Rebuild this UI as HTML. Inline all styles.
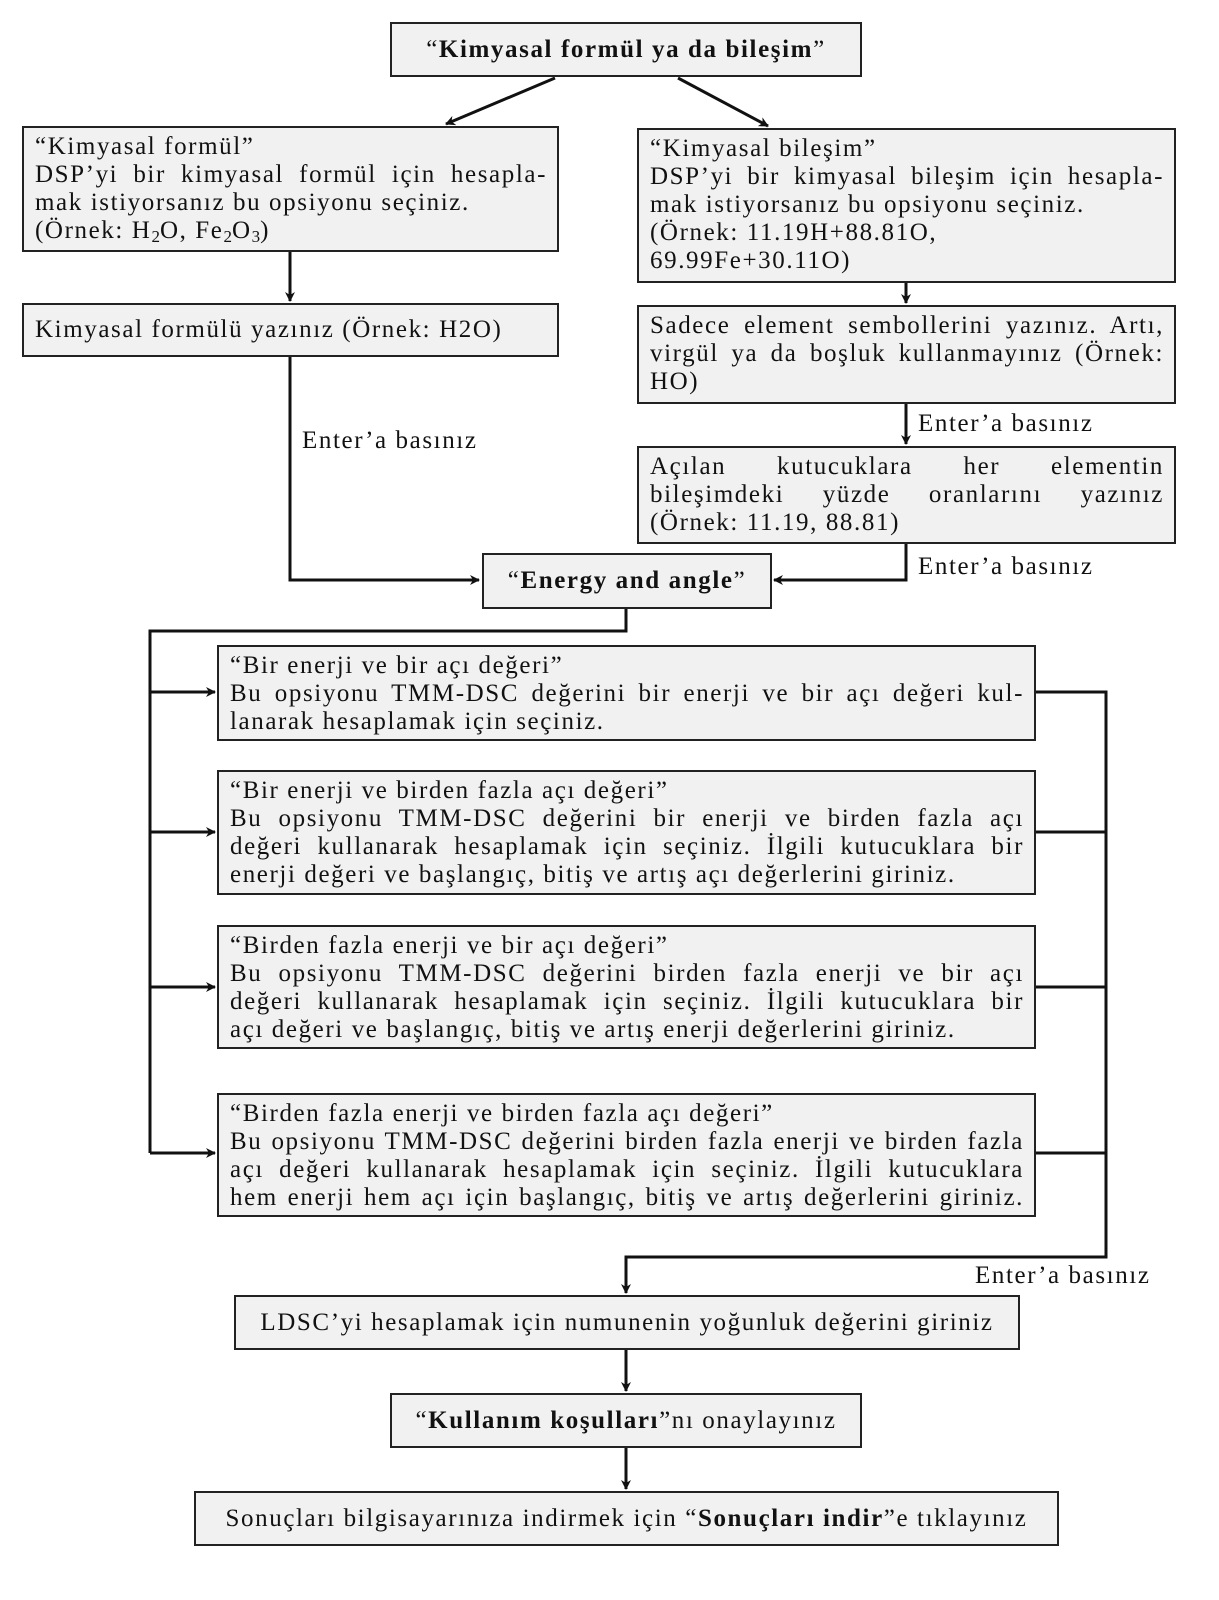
<!DOCTYPE html>
<html><head><meta charset="utf-8"><style>
body{margin:0;width:1219px;height:1600px;background:#fff;position:relative;font-family:"Liberation Serif",serif;color:#111;overflow:hidden}
.b{position:absolute;box-sizing:border-box;background:#f1f1f1;border:2px solid #222;font-size:25px;letter-spacing:1.6px;line-height:28px;padding:5px 10px 0 11px}
.b div{white-space:nowrap}
.j{text-align:justify;text-align-last:justify;white-space:normal!important}
.c{text-align:center;display:flex;align-items:center;justify-content:center;padding:0}
.l{position:absolute;font-size:25px;letter-spacing:1.6px;white-space:nowrap}
sub{font-size:17px;vertical-align:-4px;line-height:0;letter-spacing:0}
</style></head><body>
<svg width="1219" height="1600" style="position:absolute;left:0;top:0">
<defs><marker id="a" markerWidth="10" markerHeight="10" refX="9" refY="5" orient="auto" markerUnits="userSpaceOnUse"><path d="M0,0 L10,5 L0,10 L3,5z" fill="#111"/></marker></defs>
<g stroke="#111" stroke-width="3" fill="none">
<line x1="555" y1="78" x2="446" y2="124" marker-end="url(#a)"/>
<line x1="678" y1="78" x2="768" y2="126" marker-end="url(#a)"/>
<line x1="290" y1="252" x2="290" y2="301" marker-end="url(#a)"/>
<line x1="906" y1="283" x2="906" y2="303" marker-end="url(#a)"/>
<line x1="906" y1="404" x2="906" y2="444" marker-end="url(#a)"/>
<polyline points="290,357 290,580 479,580" marker-end="url(#a)"/>
<polyline points="906,544 906,580 774,580" marker-end="url(#a)"/>
<polyline points="626,609 626,631 150,631 150,1153"/>
<line x1="150" y1="692" x2="215" y2="692" marker-end="url(#a)"/>
<line x1="150" y1="832" x2="215" y2="832" marker-end="url(#a)"/>
<line x1="150" y1="987" x2="215" y2="987" marker-end="url(#a)"/>
<line x1="150" y1="1153" x2="215" y2="1153" marker-end="url(#a)"/>
<polyline points="1036,692 1106,692 1106,1257 626,1257 626,1293" marker-end="url(#a)"/>
<line x1="1036" y1="832" x2="1106" y2="832"/>
<line x1="1036" y1="987" x2="1106" y2="987"/>
<line x1="1036" y1="1153" x2="1106" y2="1153"/>
<line x1="626" y1="1350" x2="626" y2="1391" marker-end="url(#a)"/>
<line x1="626" y1="1448" x2="626" y2="1489" marker-end="url(#a)"/>
</g></svg>

<div class="b c" style="left:390px;top:22px;width:472px;height:55px">“<b>Kimyasal formül ya da bileşim</b>”</div>

<div class="b" style="left:22px;top:126px;width:537px;height:126px">
<div>“Kimyasal formül”</div>
<div class="j">DSP’yi bir kimyasal formül için hesapla-</div>
<div>mak istiyorsanız bu opsiyonu seçiniz.</div>
<div>(Örnek: H<sub>2</sub>O, Fe<sub>2</sub>O<sub>3</sub>)</div>
</div>

<div class="b" style="left:637px;top:128px;width:539px;height:155px">
<div>“Kimyasal bileşim”</div>
<div class="j">DSP’yi bir kimyasal bileşim için hesapla-</div>
<div>mak istiyorsanız bu opsiyonu seçiniz.</div>
<div>(Örnek: 11.19H+88.81O,</div>
<div>69.99Fe+30.11O)</div>
</div>

<div class="b c" style="left:22px;top:303px;width:537px;height:54px;justify-content:flex-start;padding-left:11px">Kimyasal formülü yazınız (Örnek: H2O)</div>

<div class="b" style="left:637px;top:305px;width:539px;height:99px">
<div class="j">Sadece element sembollerini yazınız. Artı,</div>
<div class="j">virgül ya da boşluk kullanmayınız (Örnek:</div>
<div>HO)</div>
</div>

<div class="b" style="left:637px;top:446px;width:539px;height:98px">
<div class="j">Açılan kutucuklara her elementin</div>
<div class="j">bileşimdeki yüzde oranlarını yazınız</div>
<div>(Örnek: 11.19, 88.81)</div>
</div>

<div class="b c" style="left:482px;top:553px;width:290px;height:56px">“<b>Energy and angle</b>”</div>

<div class="b" style="left:217px;top:645px;width:819px;height:96px">
<div>“Bir enerji ve bir açı değeri”</div>
<div class="j">Bu opsiyonu TMM-DSC değerini bir enerji ve bir açı değeri kul-</div>
<div>lanarak hesaplamak için seçiniz.</div>
</div>

<div class="b" style="left:217px;top:770px;width:819px;height:125px">
<div>“Bir enerji ve birden fazla açı değeri”</div>
<div class="j">Bu opsiyonu TMM-DSC değerini bir enerji ve birden fazla açı</div>
<div class="j">değeri kullanarak hesaplamak için seçiniz. İlgili kutucuklara bir</div>
<div>enerji değeri ve başlangıç, bitiş ve artış açı değerlerini giriniz.</div>
</div>

<div class="b" style="left:217px;top:925px;width:819px;height:124px">
<div>“Birden fazla enerji ve bir açı değeri”</div>
<div class="j">Bu opsiyonu TMM-DSC değerini birden fazla enerji ve bir açı</div>
<div class="j">değeri kullanarak hesaplamak için seçiniz. İlgili kutucuklara bir</div>
<div>açı değeri ve başlangıç, bitiş ve artış enerji değerlerini giriniz.</div>
</div>

<div class="b" style="left:217px;top:1093px;width:819px;height:124px">
<div>“Birden fazla enerji ve birden fazla açı değeri”</div>
<div class="j">Bu opsiyonu TMM-DSC değerini birden fazla enerji ve birden fazla</div>
<div class="j">açı değeri kullanarak hesaplamak için seçiniz. İlgili kutucuklara</div>
<div class="j">hem enerji hem açı için başlangıç, bitiş ve artış değerlerini giriniz.</div>
</div>

<div class="b c" style="left:234px;top:1295px;width:786px;height:55px">LDSC’yi hesaplamak için numunenin yoğunluk değerini giriniz</div>
<div class="b c" style="left:390px;top:1393px;width:472px;height:55px">“<b>Kullanım koşulları</b>”nı onaylayınız</div>
<div class="b c" style="left:194px;top:1491px;width:865px;height:55px">Sonuçları bilgisayarınıza indirmek için “<b>Sonuçları indir</b>”e tıklayınız</div>

<div class="l" style="left:302px;top:427px">Enter’a basınız</div>
<div class="l" style="left:918px;top:410px">Enter’a basınız</div>
<div class="l" style="left:918px;top:553px">Enter’a basınız</div>
<div class="l" style="left:975px;top:1262px">Enter’a basınız</div>
</body></html>
